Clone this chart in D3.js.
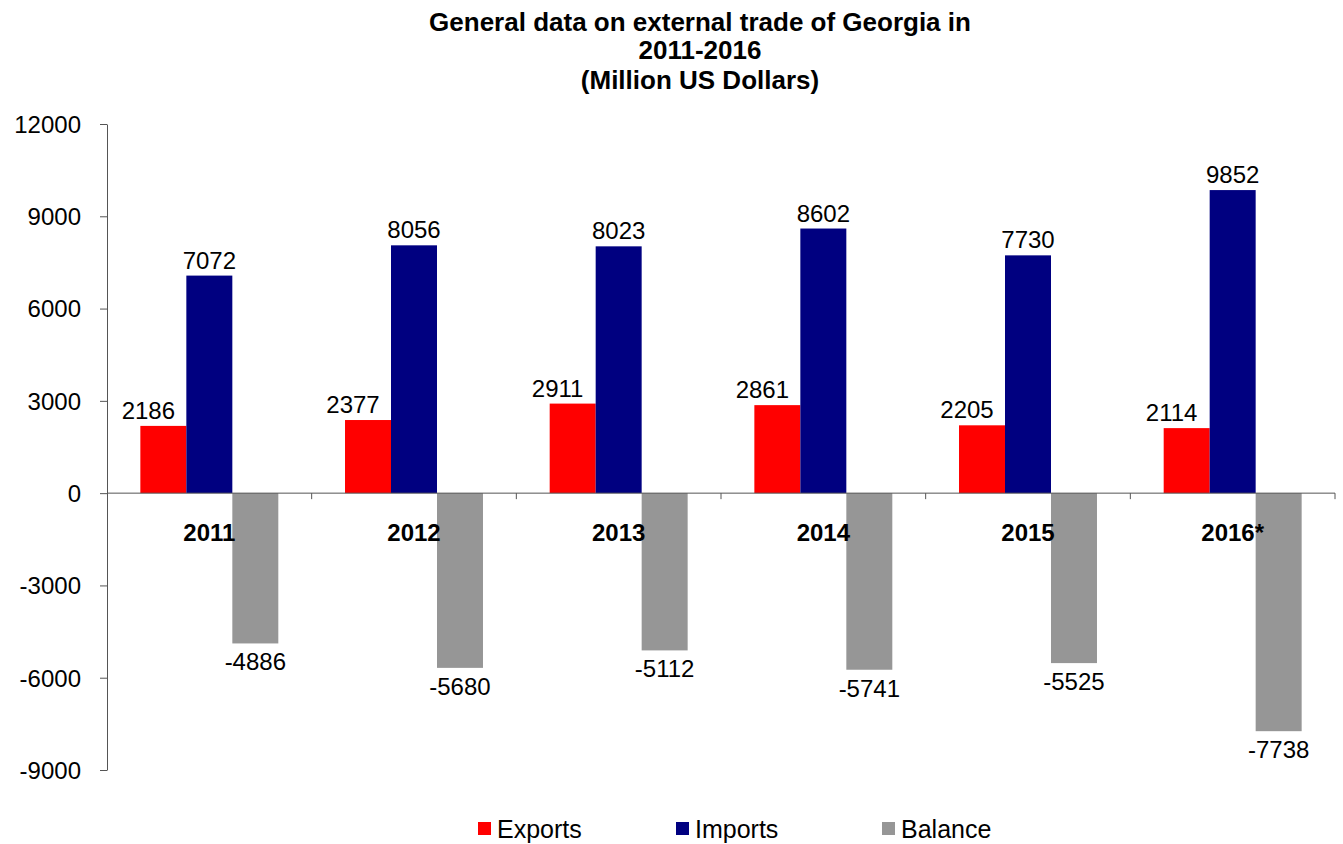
<!DOCTYPE html>
<html>
<head>
<meta charset="utf-8">
<script src="https://cdn.jsdelivr.net/npm/d3@7"></script>
<style>
  body { margin: 0; background: #fff; }
  svg text { font-family: "Liberation Sans", Arial, sans-serif; fill: #000; }
</style>
</head>
<body>
<div id="chart"></div>
<script>
// chart data
const years = ['2011', '2012', '2013', '2014', '2015', '2016*'];
const exportsValues = [2186, 2377, 2911, 2861, 2205, 2114];
const importsValues = [7072, 8056, 8023, 8602, 7730, 9852];
const balanceValues = [-4886, -5680, -5112, -5741, -5525, -7738];
const seriesNames = ['Exports', 'Imports', 'Balance'];
const seriesColors = ['#ff0000', '#000080', '#969696'];
const yTicks = [-9000, -6000, -3000, 0, 3000, 6000, 9000, 12000];
const titleLines = ['General data on external trade of Georgia in', '2011-2016', '(Million US Dollars)'];

document.addEventListener('DOMContentLoaded', () => {
  const width = 1343;
  const height = 844;

  const svg = d3.select('#chart')
    .append('svg')
    .attr('width', width)
    .attr('height', height);

  const x = d3.scaleBand()
    .domain(years)
    .range([107, 1335]);

  // Excel style gap width: bars take ~67% of each category
  const barW = x.bandwidth() * 0.2247;
  const groupOffset = (x.bandwidth() - 3 * barW) / 2;

  const y = d3.scaleLinear()
    .domain([-9000, 12000])
    .range([770, 124]);

  // title
  svg.append('text')
    .attr('text-anchor', 'middle')
    .style('font-weight', 'bold')
    .style('font-size', '26px')
    .selectAll('tspan')
    .data(titleLines)
    .enter().append('tspan')
    .attr('x', 700)
    .attr('y', (d, i) => [31, 59, 89][i])
    .text(d => d);

  // y axis, plain integers with a hyphen minus like the original
  const yAxis = svg.append('g')
    .attr('transform', `translate(${x.range()[0]},0)`)
    .call(d3.axisLeft(y)
      .tickValues(yTicks)
      .tickFormat(d => String(d))
      .tickSize(7)
      .tickPadding(19)
      .tickSizeOuter(0));
  yAxis.select('.domain').attr('stroke', '#555');
  yAxis.selectAll('.tick line').attr('stroke', '#555');
  yAxis.selectAll('.tick text')
    .style('font-size', '24px')
    .attr('dy', '0.35em');

  // bars, one group per series
  const series = [exportsValues, importsValues, balanceValues];

  series.forEach((values, s) => {
    svg.append('g')
      .selectAll('rect')
      .data(values)
      .enter().append('rect')
      .attr('x', (d, i) => x(years[i]) + groupOffset + s * barW)
      .attr('y', d => y(Math.max(0, d)))
      .attr('width', barW)
      .attr('height', d => Math.abs(y(d) - y(0)))
      .attr('fill', seriesColors[s]);
  });

  // x axis line at zero with ticks between categories
  const xAxis = svg.append('g')
    .attr('transform', `translate(0,${y(0)})`);
  xAxis.append('line')
    .attr('x1', x.range()[0])
    .attr('x2', x.range()[1])
    .attr('stroke', '#555');
  xAxis.selectAll('.sep')
    .data(years)
    .enter().append('line')
    .attr('class', 'sep')
    .attr('x1', d => x(d) + x.step())
    .attr('x2', d => x(d) + x.step())
    .attr('y1', 0)
    .attr('y2', 6)
    .attr('stroke', '#555');

  // category labels
  svg.append('g')
    .selectAll('text')
    .data(years)
    .enter().append('text')
    .attr('x', d => x(d) + x.bandwidth() / 2)
    .attr('y', 541)
    .attr('text-anchor', 'middle')
    .style('font-weight', 'bold')
    .style('font-size', '24px')
    .text(d => d);

  // value labels (exports labels sit a bit to the left)
  const labelShift = [-15, 0, 0];
  series.forEach((values, s) => {
    svg.append('g')
      .selectAll('text')
      .data(values)
      .enter().append('text')
      .attr('x', (d, i) => x(years[i]) + groupOffset + s * barW + barW / 2 + labelShift[s])
      .attr('y', d => d >= 0 ? y(d) - 7 : y(d) + 27)
      .attr('text-anchor', 'middle')
      .style('font-size', '24px')
      .text(d => d);
  });

  // legend
  const legendX = [478, 676, 882];
  const legend = svg.append('g')
    .selectAll('g')
    .data(seriesNames)
    .enter().append('g')
    .attr('transform', (d, i) => `translate(${legendX[i]},822)`);

  legend.append('rect')
    .attr('width', 13)
    .attr('height', 13)
    .attr('fill', (d, i) => seriesColors[i]);

  legend.append('text')
    .attr('x', 19)
    .attr('y', 16)
    .style('font-size', '25px')
    .text(d => d);
});
</script>
</body>
</html>
